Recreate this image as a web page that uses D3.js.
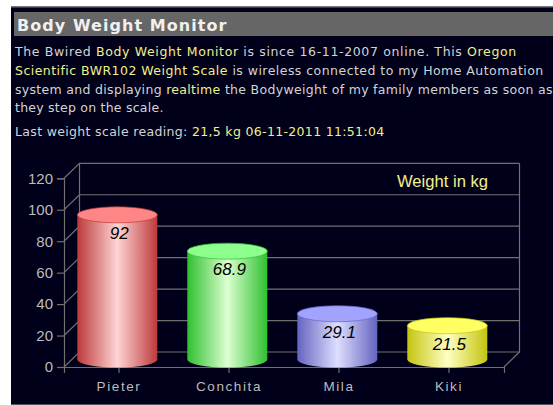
<!DOCTYPE html>
<html>
<head>
<meta charset="utf-8">
<script src="https://cdn.jsdelivr.net/npm/d3@7"></script>
<style>
    html, body { margin: 0; padding: 0; background: #fff; overflow: hidden; }
    svg { display: block; }
</style>
</head>
<body>
<script>
var names = ["Pieter", "Conchita", "Mila", "Kiki"];
var weights = [92, 68.9, 29.1, 21.5];
var weightLabels = ["92", "68.9", "29.1", "21.5"];
var yTicks = [0, 20, 40, 60, 80, 100, 120];
var sideColors = ["#bd3a3a", "#30c030", "#6464c0", "#c4c410"];
var midColors = ["#ffd4d4", "#dcffd0", "#dedeff", "#ffffc4"];
var topColors = ["#ff8686", "#8cff8c", "#a2a2ff", "#ffff62"];

// each text line is a list of [text, colour] pieces
var white = "#d4d4d4";
var yellow = "#f0f08c";
var introLines = [
    { y: 56, spacing: 0.64, parts: [["The Bwired ", white], ["Body Weight Monitor", yellow], [" is since 16-11-2007 online. This ", white], ["Oregon", yellow]] },
    { y: 75, spacing: 0.46, parts: [["Scientific BWR102 Weight Scale", yellow], [" is wireless connected to my Home Automation", white]] },
    { y: 94, spacing: 0.31, parts: [["system and displaying ", white], ["realtime", yellow], [" the Bodyweight of my family members as soon as", white]] },
    { y: 112, spacing: 0.24, parts: [["they step on the scale.", white]] },
    { y: 136, spacing: 0.33, parts: [["Last weight scale reading: ", white], ["21,5 kg 06-11-2011 11:51:04", yellow]] }
];

var svg = d3.select("body").append("svg")
    .attr("width", 553)
    .attr("height", 405);

var defs = svg.append("defs");

names.forEach(function (d, i) {
    var grad = defs.append("linearGradient")
        .attr("id", "bar" + i);
    grad.append("stop").attr("offset", "0%").attr("stop-color", sideColors[i]);
    grad.append("stop").attr("offset", "50%").attr("stop-color", midColors[i]);
    grad.append("stop").attr("offset", "100%").attr("stop-color", sideColors[i]);
});

// page panel
svg.append("rect")
    .attr("x", 11).attr("y", 6)
    .attr("width", 542).attr("height", 399)
    .attr("fill", "#00001a");
svg.append("rect")
    .attr("x", 11).attr("y", 6)
    .attr("width", 542).attr("height", 1.5)
    .attr("fill", "#777");
svg.append("rect")
    .attr("x", 11).attr("y", 404)
    .attr("width", 542).attr("height", 1)
    .attr("fill", "#555");
svg.append("rect")
    .attr("x", 14).attr("y", 12)
    .attr("width", 539).attr("height", 24)
    .attr("fill", "#666");
svg.append("text")
    .attr("x", 17).attr("y", 31)
    .attr("font-family", "'DejaVu Sans', sans-serif")
    .attr("font-size", 16)
    .attr("font-weight", "bold")
    .attr("letter-spacing", 1.05)
    .attr("fill", "#f0f0f0")
    .text("Body Weight Monitor");

introLines.forEach(function (line) {
    var t = svg.append("text")
        .attr("x", 15).attr("y", line.y)
        .attr("font-family", "'DejaVu Sans', sans-serif")
        .attr("font-size", 12.5)
        .attr("letter-spacing", line.spacing);
    line.parts.forEach(function (p) {
        t.append("tspan")
            .attr("fill", p[1])
            .style("white-space", "pre")
            .text(p[0]);
    });
});

// chart
var margin = { left: 64, right: 49, top: 178.3, bottom: 38 };
var chartWidth = 553 - margin.left - margin.right;
var chartHeight = 405 - margin.top - margin.bottom;
var depthX = 15.5;
var depthY = 15;
var gridColor = "#707070";
var fontFamily = "'Liberation Sans', Arial, sans-serif";

var x = d3.scaleBand()
    .domain(names)
    .range([0, chartWidth])
    .paddingInner(0.2727)
    .paddingOuter(0.1364);

var y = d3.scaleLinear()
    .domain([0, 120])
    .range([chartHeight, 0]);

var g = svg.append("g")
    .attr("transform", "translate(" + margin.left + "," + margin.top + ")");

// back wall and floor
g.selectAll(".grid")
    .data(yTicks)
    .enter()
    .append("path")
    .attr("class", "grid")
    .attr("fill", "none")
    .attr("stroke", gridColor)
    .attr("stroke-width", 1.2)
    .attr("d", function (d) {
        return "M0," + y(d) + "L" + depthX + "," + (y(d) - depthY) + "H" + (chartWidth + depthX);
    });

g.append("path")
    .attr("fill", "none")
    .attr("stroke", gridColor)
    .attr("stroke-width", 1.2)
    .attr("d", "M" + depthX + "," + (y(120) - depthY) + "V" + (y(0) - depthY)
        + "M" + (chartWidth + depthX) + "," + (y(120) - depthY) + "V" + (y(0) - depthY)
        + "L" + chartWidth + "," + y(0));

// axes
var yAxis = d3.axisLeft(y)
    .tickValues(yTicks)
    .tickSize(7)
    .tickPadding(4);
var xAxis = d3.axisBottom(x)
    .tickSize(6)
    .tickPadding(8);

var yG = g.append("g").call(yAxis);
var xG = g.append("g")
    .attr("transform", "translate(0," + chartHeight + ")")
    .call(xAxis);

[yG, xG].forEach(function (a) {
    a.selectAll("path, line").attr("stroke", gridColor).attr("stroke-width", 1.2);
    a.selectAll("text")
        .attr("fill", "#bcbcbc")
        .attr("font-family", fontFamily);
});
yG.selectAll("text").attr("font-size", 15);
xG.selectAll("text").attr("font-size", 13.5).attr("letter-spacing", 1.6);

// cylinders
var barOffsetX = -1.7;
var barOffsetY = -depthY / 2;
var ry = 8;

var bars = g.selectAll(".bar")
    .data(names)
    .enter()
    .append("g")
    .attr("class", "bar")
    .attr("transform", function (d) {
        return "translate(" + (x(d) + barOffsetX) + "," + barOffsetY + ")";
    });

bars.append("path")
    .attr("fill", function (d, i) { return "url(#bar" + i + ")"; })
    .attr("d", function (d, i) {
        var w = x.bandwidth();
        var r = w / 2;
        return "M0," + y(weights[i]) + "V" + y(0)
            + "A" + r + "," + ry + " 0 0 0 " + w + "," + y(0)
            + "V" + y(weights[i]) + "Z";
    });

bars.append("ellipse")
    .attr("cx", x.bandwidth() / 2)
    .attr("cy", function (d, i) { return y(weights[i]); })
    .attr("rx", x.bandwidth() / 2)
    .attr("ry", ry)
    .attr("fill", function (d, i) { return topColors[i]; })
    .attr("stroke", function (d, i) { return sideColors[i]; })
    .attr("stroke-width", 0.7);

bars.append("text")
    .attr("x", x.bandwidth() / 2 + 2)
    .attr("y", function (d, i) { return y(weights[i]) + 24; })
    .attr("text-anchor", "middle")
    .attr("font-family", fontFamily)
    .attr("font-size", 17)
    .attr("font-style", "italic")
    .attr("fill", "#000")
    .text(function (d, i) { return weightLabels[i]; });

svg.append("text")
    .attr("x", 488).attr("y", 187)
    .attr("text-anchor", "end")
    .attr("font-family", fontFamily)
    .attr("font-size", 16.6)
    .attr("fill", yellow)
    .text("Weight in kg");
</script>
</body>
</html>
